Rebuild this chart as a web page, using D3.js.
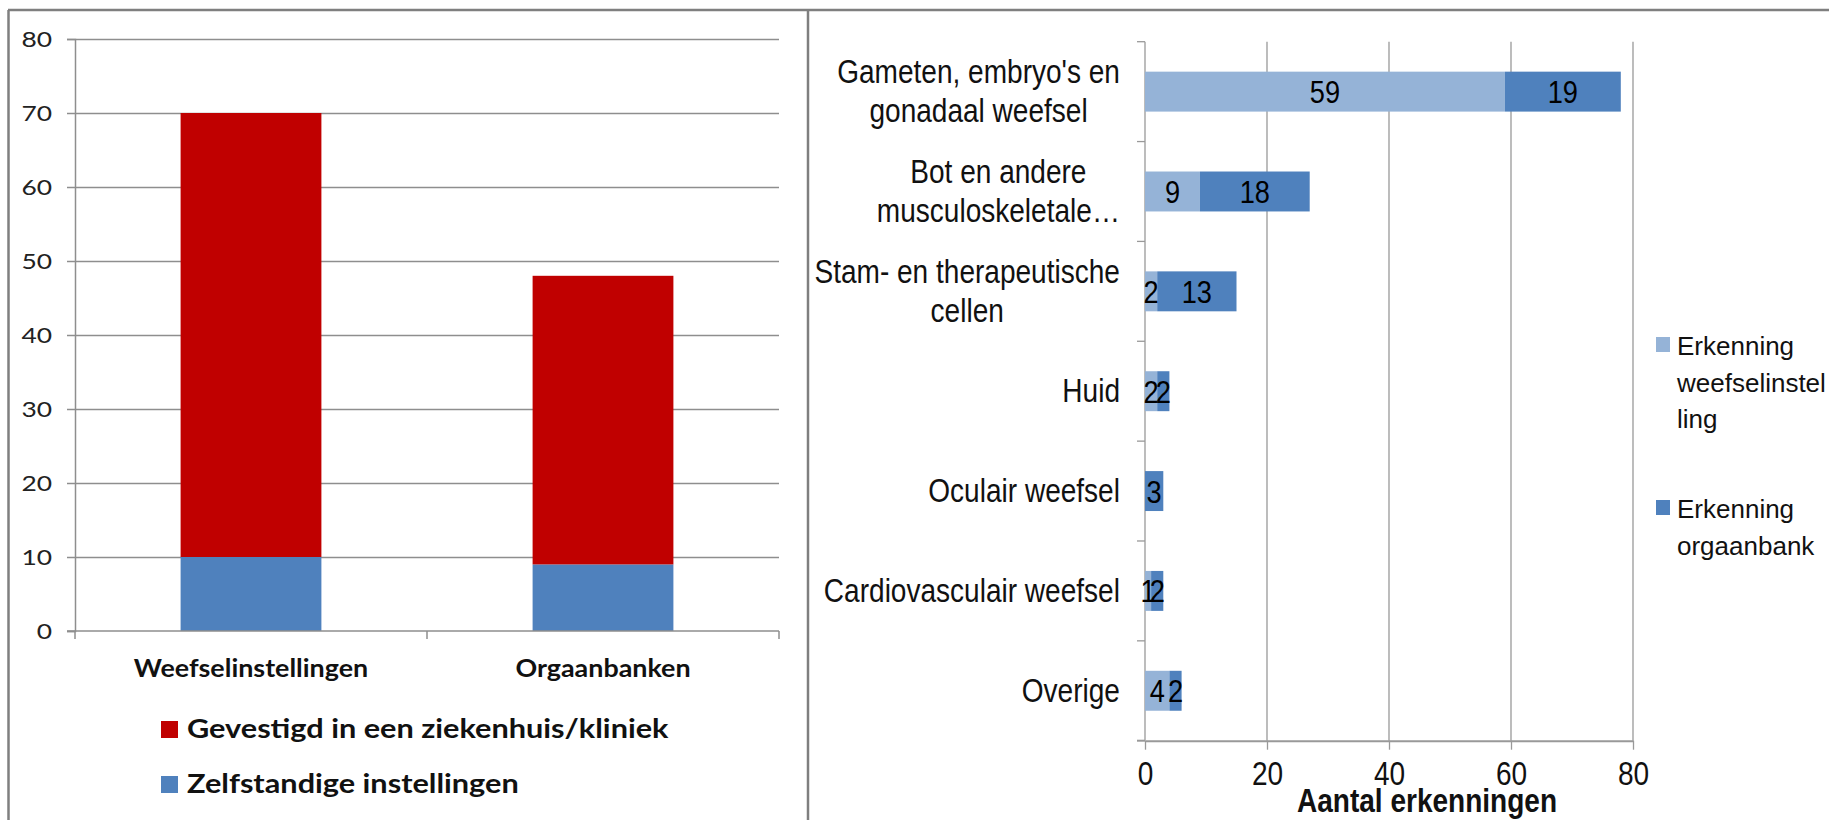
<!DOCTYPE html>
<html>
<head>
<meta charset="utf-8">
<script src="https://cdn.jsdelivr.net/npm/d3@7"></script>
<style>
  body { margin: 0; background: #fff; }
  svg { display: block; }
</style>
</head>
<body>
<div id="chart"></div>
<script>
// left chart data
const leftCats = ["Weefselinstellingen", "Orgaanbanken"];
const zelfstandig = [10, 9];
const ziekenhuis = [60, 39];
const leftLegend = ["Gevestigd in een ziekenhuis/kliniek", "Zelfstandige instellingen"];

// right chart data
const rightCats = [
  ["Gameten, embryo's en", "gonadaal weefsel"],
  ["Bot en andere", "musculoskeletale…"],
  ["Stam- en therapeutische", "cellen"],
  ["Huid"],
  ["Oculair weefsel"],
  ["Cardiovasculair weefsel"],
  ["Overige"]
];
const erkWeefsel = [59, 9, 2, 2, 0, 1, 4];
const erkOrgaan = [19, 18, 13, 2, 3, 2, 2];
const rightTicks = [0, 20, 40, 60, 80];
const rightLegend = [["Erkenning", "weefselinstel", "ling"], ["Erkenning", "orgaanbank"]];

const W = 1829, H = 820;
const red = "#C00000", blue = "#4F81BD", lightBlue = "#95B3D7";
const gridCol = "#8e8e8e";
const sans = "'Liberation Sans', Arial, sans-serif";
const NX = 0.85; // horizontal squeeze used for the right chart text

const svg = d3.select("#chart").append("svg")
  .attr("width", W).attr("height", H);

// put a text at x,y with horizontal scaling
function place(sel, x, y, sx) {
  return sel.attr("transform", `translate(${x},${y}) scale(${sx},1)`);
}

// panel borders
svg.append("line").attr("x1", 8.5).attr("x2", 8.5).attr("y1", 10).attr("y2", H)
  .attr("stroke", "#7f7f7f").attr("stroke-width", 2.5);
svg.append("line").attr("x1", 8).attr("x2", W).attr("y1", 10).attr("y2", 10)
  .attr("stroke", "#7f7f7f").attr("stroke-width", 2.5);
svg.append("line").attr("x1", 808).attr("x2", 808).attr("y1", 10).attr("y2", H)
  .attr("stroke", "#7f7f7f").attr("stroke-width", 2.5);

// ---------- left: stacked columns ----------
const lx = d3.scaleBand().domain(leftCats).range([75, 779])
  .paddingInner(0.6).paddingOuter(0.3);
const ly = d3.scaleLinear().domain([0, 80]).range([631, 39]);

const left = svg.append("g");

// gridlines + y labels
const yAx = left.append("g").attr("transform", "translate(75,0)")
  .call(d3.axisLeft(ly).ticks(8).tickSize(8).tickPadding(6));
yAx.select(".domain").attr("stroke", gridCol).attr("stroke-width", 1.5);
yAx.selectAll(".tick line").attr("stroke", gridCol).attr("stroke-width", 1.5);
yAx.selectAll(".tick text").attr("font-family", "Lato, sans-serif")
  .attr("font-size", 22).attr("fill", "#222").attr("dy", "0.36em")
  .attr("x", -23 / 1.2).attr("transform", "scale(1.2,1)");
yAx.selectAll(".tick").filter(d => d > 0).append("line")
  .attr("x1", 0).attr("x2", 704).attr("stroke", gridCol).attr("stroke-width", 1.5);

const stackData = leftCats.map((c, i) => ({ cat: c, z: zelfstandig[i], g: ziekenhuis[i] }));
left.selectAll(".zelf").data(stackData).enter().append("rect")
  .attr("x", d => lx(d.cat)).attr("width", lx.bandwidth())
  .attr("y", d => ly(d.z)).attr("height", d => ly(0) - ly(d.z))
  .attr("fill", blue);
left.selectAll(".zk").data(stackData).enter().append("rect")
  .attr("x", d => lx(d.cat)).attr("width", lx.bandwidth())
  .attr("y", d => ly(d.z + d.g)).attr("height", d => ly(d.z) - ly(d.z + d.g))
  .attr("fill", red);

// x axis
left.append("line").attr("x1", 67).attr("x2", 779).attr("y1", 631).attr("y2", 631)
  .attr("stroke", gridCol).attr("stroke-width", 1.5);
[75, 75 + lx.step(), 779].forEach(x => {
  left.append("line").attr("x1", x).attr("x2", x).attr("y1", 631).attr("y2", 639)
    .attr("stroke", gridCol).attr("stroke-width", 1.5);
});
leftCats.forEach(c => {
  place(left.append("text"), lx(c) + lx.bandwidth() / 2, 677, 1.12)
    .attr("text-anchor", "middle").attr("font-family", "Lato, sans-serif")
    .attr("font-weight", "bold").attr("font-size", 24).attr("fill", "#111")
    .text(c);
});

// legend
const legCols = [red, blue];
leftLegend.forEach((t, i) => {
  const y0 = 721 + i * 55;
  left.append("rect").attr("x", 161).attr("y", y0).attr("width", 17).attr("height", 17)
    .attr("fill", legCols[i]);
  place(left.append("text"), 187, y0 + 17, 1.18)
    .attr("font-family", "Lato, sans-serif").attr("font-weight", "bold")
    .attr("font-size", 26).attr("fill", "#111").text(t);
});

// ---------- right: stacked horizontal bars ----------
const rx = d3.scaleLinear().domain([0, 80]).range([1145, 1633]);
const ry = d3.scaleBand().domain(d3.range(rightCats.length)).range([41.7, 740.7])
  .paddingInner(0.6).paddingOuter(0.3);
const right = svg.append("g");

// vertical gridlines
right.selectAll(".vg").data(rightTicks.filter(d => d > 0)).enter().append("line")
  .attr("x1", d => rx(d)).attr("x2", d => rx(d)).attr("y1", 41.7).attr("y2", 740.7)
  .attr("stroke", "#999").attr("stroke-width", 1.3);

// x axis
const xAx = right.append("g").attr("transform", "translate(0,740.7)")
  .call(d3.axisBottom(rx).tickValues(rightTicks).tickSize(9).tickSizeOuter(0).tickPadding(12));
xAx.select(".domain").attr("stroke", "#999").attr("stroke-width", 2);
xAx.selectAll(".tick line").attr("stroke", "#999").attr("stroke-width", 1.3);
xAx.selectAll(".tick text").attr("font-family", sans).attr("font-size", 33)
  .attr("fill", "#111").attr("transform", `scale(${NX},1)`);
right.append("line").attr("x1", 1137).attr("x2", 1145).attr("y1", 740.7).attr("y2", 740.7)
  .attr("stroke", "#999").attr("stroke-width", 2);

// y axis with band boundary ticks
right.append("line").attr("x1", 1145).attr("x2", 1145).attr("y1", 41.7).attr("y2", 740.7)
  .attr("stroke", "#999").attr("stroke-width", 1.3);
d3.range(rightCats.length).forEach(i => {
  const yb = ry(i) - ry.step() * ry.paddingOuter();
  right.append("line").attr("x1", 1137).attr("x2", 1145).attr("y1", yb).attr("y2", yb)
    .attr("stroke", "#999").attr("stroke-width", 1.3);
});

// bars
const rData = rightCats.map((c, i) => ({ i: i, w: erkWeefsel[i], o: erkOrgaan[i] }));
right.selectAll(".bw").data(rData).enter().append("rect")
  .attr("x", rx(0)).attr("y", d => ry(d.i)).attr("height", ry.bandwidth())
  .attr("width", d => rx(d.w) - rx(0)).attr("fill", lightBlue);
right.selectAll(".bo").data(rData).enter().append("rect")
  .attr("x", d => rx(d.w)).attr("y", d => ry(d.i)).attr("height", ry.bandwidth())
  .attr("width", d => rx(d.w + d.o) - rx(d.w)).attr("fill", blue);

// data labels
const lab = (x, d, v) => place(right.append("text"), x, ry(d.i) + ry.bandwidth() / 2 + 11.5, NX)
  .attr("text-anchor", "middle").attr("font-family", sans).attr("font-size", 32)
  .attr("fill", "#000").text(v);
rData.forEach(d => {
  if (d.w > 0) lab((rx(0) + rx(d.w)) / 2, d, d.w);
  if (d.o > 0) lab((rx(d.w) + rx(d.w + d.o)) / 2, d, d.o);
});

// category labels (centered lines, block right-aligned)
rightCats.forEach((lines, i) => {
  const g = right.append("g");
  const cy = ry(i) + ry.bandwidth() / 2;
  const lh = 39;
  const ts = lines.map((t, k) => g.append("text")
    .attr("text-anchor", "middle").attr("font-family", sans).attr("font-size", 33)
    .attr("fill", "#111").text(t));
  const maxW = d3.max(ts, t => t.node().getComputedTextLength()) * NX;
  ts.forEach((t, k) => place(t, 1120 - maxW / 2, cy + 11 + (k - (lines.length - 1) / 2) * lh, NX));
});

place(right.append("text"), 1427, 812, NX).attr("text-anchor", "middle")
  .attr("font-family", sans).attr("font-weight", "bold").attr("font-size", 33)
  .attr("fill", "#111").text("Aantal erkenningen");

// right legend
const rLegCols = [lightBlue, blue];
const rLegY = [337, 500];
rightLegend.forEach((lines, i) => {
  right.append("rect").attr("x", 1656).attr("y", rLegY[i]).attr("width", 14).attr("height", 15)
    .attr("fill", rLegCols[i]);
  lines.forEach((t, k) => {
    right.append("text").attr("x", 1677).attr("y", rLegY[i] + 18 + k * 36.5)
      .attr("font-family", sans).attr("font-size", 26)
      .attr("fill", "#111").text(t);
  });
});
</script>
</body>
</html>
